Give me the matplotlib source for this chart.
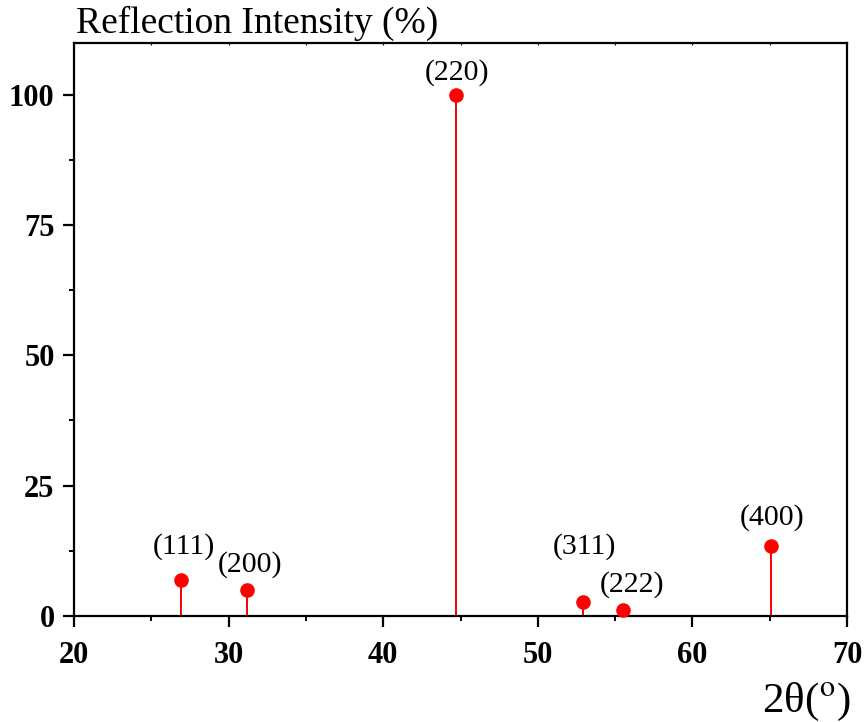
"""Stick pattern of the indexed reflections with relative intensities."""

import matplotlib.pyplot as plt
from matplotlib.ticker import MultipleLocator

# Reflection positions (2-theta, degrees) and relative intensities (%)
two_theta = [26.92, 31.19, 44.71, 52.94, 55.53, 65.06]
intensity = [6.9, 4.95, 100.0, 2.6, 1.1, 13.3]
hkl = ["(111)", "(200)", "(220)", "(311)", "(222)", "(400)"]

# label offsets from each marker, in points
label_offsets = [(2, 24), (2, 18), (1, 16), (1, 40), (6, 18), (1, 21)]

plt.rcParams["font.family"] = ["Liberation Serif", "DejaVu Serif"]
plt.rcParams["mathtext.fontset"] = "stix"

fig = plt.figure(figsize=(8.67, 7.22), dpi=100)
ax = fig.add_axes([0.0854, 0.1472, 0.8916, 0.7932])

ax.vlines(two_theta, 0, intensity, color="#ff0000", linewidth=1.4, zorder=2)
ax.plot(two_theta, intensity, "o", color="#ff0000", markersize=10.5,
        markeredgewidth=0, zorder=3, clip_on=False)

for x, y, lab, (dx, dy) in zip(two_theta, intensity, hkl, label_offsets):
    ax.annotate(lab, (x, y), xytext=(dx, dy), textcoords="offset points",
                ha="center", va="center", fontsize=21.5)

ax.set_xlim(20, 70)
ax.set_ylim(0, 110)
ax.xaxis.set_major_locator(MultipleLocator(10))
ax.xaxis.set_minor_locator(MultipleLocator(5))
ax.yaxis.set_major_locator(MultipleLocator(25))
ax.yaxis.set_minor_locator(MultipleLocator(12.5))

for side in ax.spines.values():
    side.set_linewidth(1.6)

ax.tick_params(axis="both", which="major", direction="out", length=8,
               width=1.6, labelsize=22)
ax.tick_params(axis="both", which="minor", direction="out", length=3.5, width=1.4)
ax.tick_params(axis="y", which="major", pad=6)
ax.tick_params(axis="x", which="major", pad=10)
for lab in ax.get_xticklabels() + ax.get_yticklabels():
    lab.set_fontweight("bold")

# top axis carries only faint marks
secx = ax.secondary_xaxis("top")
secx.set_xticks(range(20, 71, 5))
secx.tick_params(direction="in", length=1.5, width=0.8, labeltop=False)
secx.spines["top"].set_visible(False)

fig.text(0.0877, 1 - 33 / 722, "Reflection Intensity (%)", fontsize=27,
         ha="left", va="baseline")
fig.text(0.981, 1 - 712 / 722, "2θ($^{\\mathrm{o}}$)", fontsize=31,
         ha="right", va="baseline")

fig.savefig("out.png", dpi=100)
